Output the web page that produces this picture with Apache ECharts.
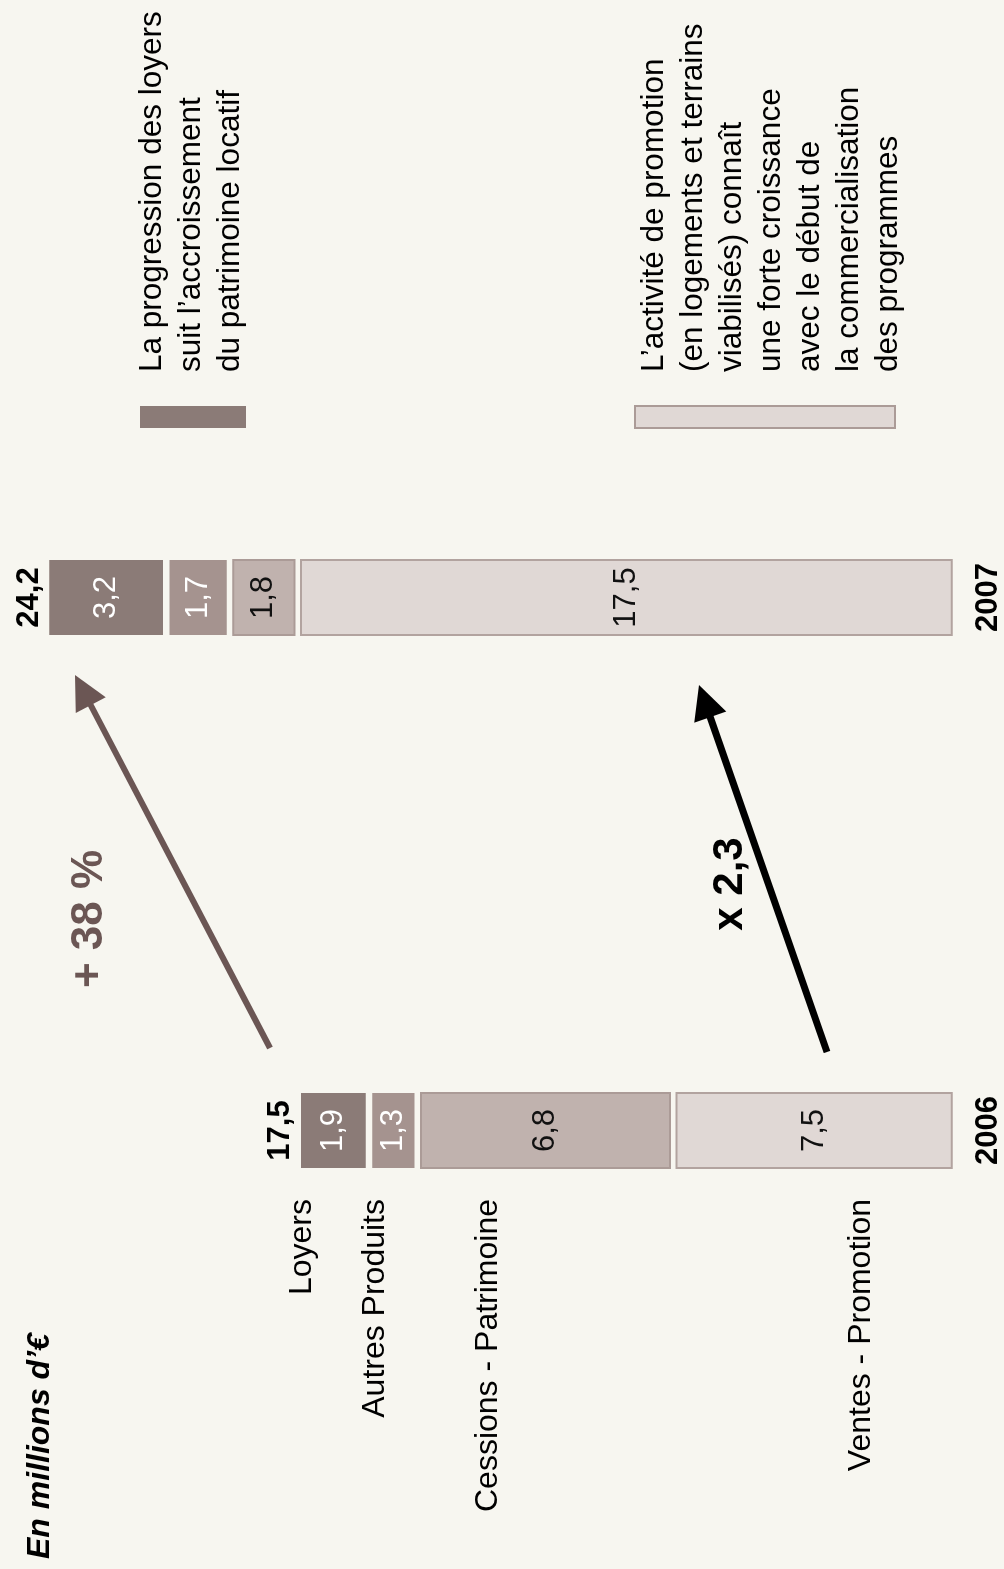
<!DOCTYPE html>
<html>
<head>
<meta charset="utf-8">
<script src="https://cdn.jsdelivr.net/npm/echarts@6/dist/echarts.min.js"></script>
<style>
  html, body { margin: 0; padding: 0; width: 1004px; height: 1569px; overflow: hidden; background: #f7f6f0; }
  /* the chart is laid out in landscape and turned a quarter turn */
  #chart { position: absolute; left: 0; top: 0; width: 1569px; height: 1004px;
           transform-origin: 0 0; transform: translateY(1569px) rotate(-90deg); }
</style>
</head>
<body>
<div id="chart"></div>
<script>
const years = ['2006', '2007']
const ventes = [7.5, 17.5]
const cessions = [6.8, 1.8]
const autres = [1.3, 1.7]
const loyers = [1.9, 3.2]
const segmentNames = ['Loyers', 'Autres Produits', 'Cessions - Patrimoine', 'Ventes - Promotion']
const noteLoyers = ['La progression des loyers', 'suit l\u2019accroissement', 'du patrimoine locatif']
const notePromotion = ['L\u2019activité de promotion', '(en logements et terrains', 'viabilisés) connaît',
  'une forte croissance', 'avec le début de', 'la commercialisation', 'des programmes']

const FONT = '"Liberation Sans", Arial, Helvetica, sans-serif'
const GAP = 6.5
const BAR_W = 75

const fmt = v => String(Math.round(v * 10) / 10).replace('.', ',')

// stacking, bottom to top
const stack = [
  { name: 'Ventes - Promotion', values: ventes, fill: '#e0d8d5', stroke: '#b2a39f', lw: 2, text: '#111' },
  { name: 'Cessions - Patrimoine', values: cessions, fill: '#c0b2ae', stroke: '#ab9b97', lw: 2, text: '#111' },
  { name: 'Autres Produits', values: autres, fill: '#a5938f', stroke: null, lw: 0, text: '#fff' },
  { name: 'Loyers', values: loyers, fill: '#8b7b77', stroke: null, lw: 0, text: '#fff' }
]

const base = years.map(() => 0)
const series = stack.map(s => {
  const data = years.map((y, i) => {
    const item = [i, base[i], base[i] + s.values[i], s.values[i]]
    base[i] += s.values[i]
    return item
  })
  return {
    type: 'custom',
    name: s.name,
    encode: { x: 0, y: [1, 2] },
    data,
    renderItem: (params, api) => {
      const cat = api.value(0)
      const lo = api.coord([cat, api.value(1)])
      const hi = api.coord([cat, api.value(2)])
      const y0 = hi[1] + GAP / 2
      const y1 = lo[1] - GAP / 2
      return {
        type: 'group',
        children: [
          {
            type: 'rect',
            shape: { x: lo[0] - BAR_W / 2, y: y0, width: BAR_W, height: y1 - y0 },
            style: { fill: s.fill, stroke: s.stroke, lineWidth: s.lw }
          },
          {
            type: 'text',
            style: {
              text: fmt(api.value(3)), x: lo[0], y: (y0 + y1) / 2,
              align: 'center', verticalAlign: 'middle',
              font: '31px ' + FONT, fill: s.text
            }
          }
        ]
      }
    }
  }
})

// totals above each bar
series.push({
  type: 'custom',
  name: 'Total',
  encode: { x: 0, y: 1 },
  data: years.map((y, i) => [i, base[i]]),
  renderItem: (params, api) => {
    const p = api.coord([api.value(0), api.value(1)])
    return {
      type: 'text',
      style: {
        text: fmt(api.value(1)), x: p[0], y: p[1] - 17,
        align: 'center', verticalAlign: 'middle',
        font: 'bold 31px ' + FONT, fill: '#000'
      }
    }
  }
})

const arrow = (x1, y1, x2, y2, color, width) => {
  const len = Math.hypot(x2 - x1, y2 - y1)
  const ux = (x2 - x1) / len
  const uy = (y2 - y1) / len
  const head = 34
  const half = 17
  const bx = x2 - ux * head
  const by = y2 - uy * head
  return [
    { type: 'line', shape: { x1, y1, x2: bx + ux * 4, y2: by + uy * 4 }, style: { stroke: color, lineWidth: width } },
    {
      type: 'polygon',
      shape: { points: [[x2, y2], [bx - uy * half, by + ux * half], [bx + uy * half, by - ux * half]] },
      style: { fill: color }
    }
  ]
}

const labelY = [302, 375, 488, 861]
const graphic = [
  {
    type: 'text',
    style: { text: 'En millions d\u2019\u20ac', x: 10, y: 40, verticalAlign: 'middle',
             font: 'italic bold 32px ' + FONT, fill: '#000' }
  },
  ...segmentNames.map((name, i) => ({
    type: 'text',
    style: { text: name, x: 370, y: labelY[i], align: 'right', verticalAlign: 'middle',
             font: '32px ' + FONT, fill: '#000' }
  })),
  {
    type: 'rect', shape: { x: 1141, y: 140, width: 22, height: 106 },
    style: { fill: '#8b7b77' }
  },
  {
    type: 'rect', shape: { x: 1141, y: 635, width: 22, height: 260 },
    style: { fill: '#e0d8d5', stroke: '#ab9b97', lineWidth: 2 }
  },
  {
    type: 'text',
    style: { text: noteLoyers.join('\n'), x: 1197, y: 132.5, verticalAlign: 'top', lineHeight: 39,
             font: '31.5px ' + FONT, fill: '#000' }
  },
  {
    type: 'text',
    style: { text: notePromotion.join('\n'), x: 1197, y: 634.5, verticalAlign: 'top', lineHeight: 39,
             font: '31.5px ' + FONT, fill: '#000' }
  },
  ...arrow(521, 270, 894, 75, '#6b5654', 6),
  ...arrow(517, 827, 884, 699, '#000', 7),
  {
    type: 'text',
    style: { text: '+ 38 %', x: 650, y: 90, align: 'center', verticalAlign: 'middle',
             font: 'bold 44px ' + FONT, fill: '#6b5654' }
  },
  {
    type: 'text',
    style: { text: 'x 2,3', x: 685, y: 730, align: 'center', verticalAlign: 'middle',
             font: 'bold 42px ' + FONT, fill: '#000' }
  }
]

const chart = echarts.init(document.getElementById('chart'))

chart.setOption({
  backgroundColor: '#f7f6f0',
  animation: false,
  grid: { left: 172, right: 331, top: 46, bottom: 47 },
  xAxis: {
    type: 'category',
    data: years,
    axisLine: { show: false },
    axisTick: { show: false },
    axisLabel: { margin: 18, fontSize: 31, fontWeight: 'bold', color: '#000', fontFamily: FONT }
  },
  yAxis: {
    type: 'value',
    min: 0,
    max: 24.2,
    show: false,
    splitLine: { show: false }
  },
  graphic,
  series
})
</script>
</body>
</html>
